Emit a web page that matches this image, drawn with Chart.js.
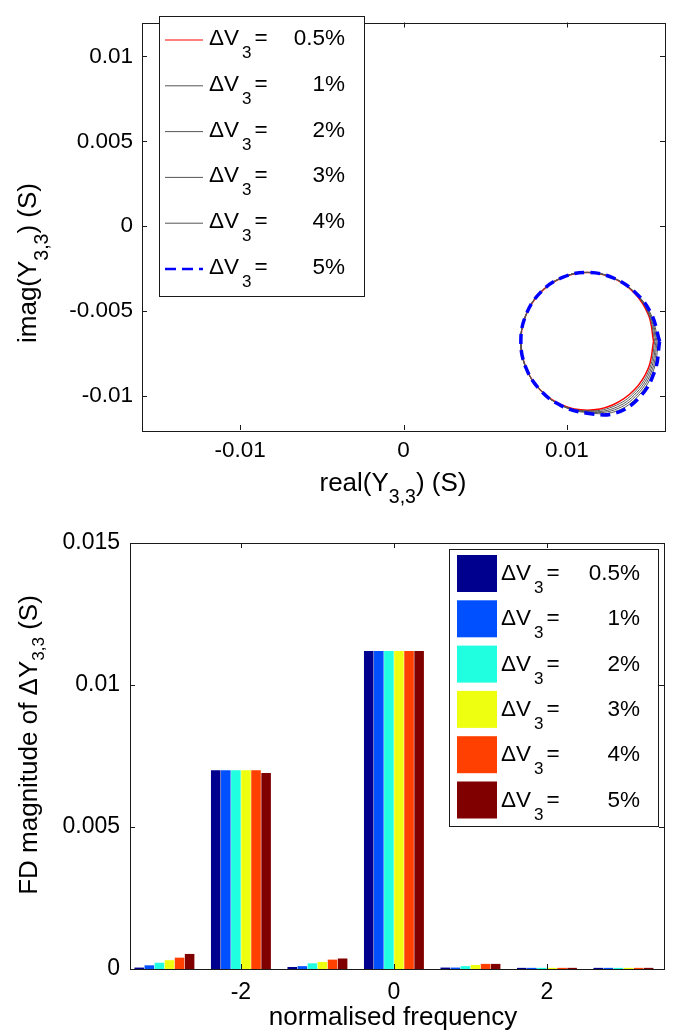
<!DOCTYPE html>
<html>
<head>
<meta charset="utf-8">
<script src="https://cdn.jsdelivr.net/npm/chart.js@4.4.0/dist/chart.umd.min.js"></script>
<style>
  html, body { margin: 0; padding: 0; background: #fff; }
  canvas { display: block; }
</style>
</head>
<body>
<canvas id="loopChart" width="674" height="510"></canvas>
<canvas id="fdChart" width="674" height="526"></canvas>
<script>
const FONT = '"Liberation Sans", Arial, Helvetica, sans-serif';
Chart.defaults.font.family = FONT;
Chart.defaults.color = '#000';

// legend levels
const levels = ['0.5%', '1%', '2%', '3%', '4%', '5%'];

// real / imag parts of Y33 traced around the loop
const re05 = [0.01530, 0.01499, 0.01411, 0.01279, 0.01124, 0.00969, 0.00837, 0.00749, 0.00718, 0.00749, 0.00837, 0.00969, 0.01124, 0.01279, 0.01411, 0.01499, 0.01530];
const im05 = [-0.00678, -0.00523, -0.00391, -0.00303, -0.00272, -0.00303, -0.00391, -0.00523, -0.00678, -0.00833, -0.00965, -0.01053, -0.01084, -0.01053, -0.00965, -0.00833, -0.00678];
const re1 = [0.01537, 0.01502, 0.01412, 0.01279, 0.01124, 0.00969, 0.00837, 0.00749, 0.00718, 0.00749, 0.00837, 0.00969, 0.01124, 0.01283, 0.01419, 0.01507, 0.01537];
const im1 = [-0.00678, -0.00522, -0.00390, -0.00303, -0.00272, -0.00303, -0.00391, -0.00523, -0.00678, -0.00833, -0.00965, -0.01054, -0.01087, -0.01062, -0.00972, -0.00836, -0.00678];
const re2 = [0.01545, 0.01506, 0.01413, 0.01279, 0.01124, 0.00969, 0.00837, 0.00749, 0.00718, 0.00749, 0.00837, 0.00968, 0.01124, 0.01287, 0.01427, 0.01515, 0.01545];
const im2 = [-0.00678, -0.00520, -0.00389, -0.00303, -0.00272, -0.00303, -0.00391, -0.00523, -0.00678, -0.00833, -0.00965, -0.01055, -0.01091, -0.01072, -0.00979, -0.00839, -0.00678];
const re3 = [0.01552, 0.01509, 0.01413, 0.01279, 0.01124, 0.00969, 0.00837, 0.00749, 0.00718, 0.00749, 0.00837, 0.00968, 0.01124, 0.01292, 0.01434, 0.01523, 0.01552];
const im3 = [-0.00678, -0.00519, -0.00389, -0.00303, -0.00272, -0.00303, -0.00391, -0.00523, -0.00678, -0.00833, -0.00965, -0.01056, -0.01094, -0.01081, -0.00987, -0.00842, -0.00678];
const re4 = [0.01560, 0.01513, 0.01414, 0.01279, 0.01124, 0.00969, 0.00837, 0.00749, 0.00718, 0.00749, 0.00837, 0.00967, 0.01124, 0.01296, 0.01442, 0.01531, 0.01560];
const im4 = [-0.00678, -0.00517, -0.00388, -0.00303, -0.00272, -0.00303, -0.00391, -0.00523, -0.00678, -0.00833, -0.00965, -0.01057, -0.01098, -0.01091, -0.00994, -0.00845, -0.00678];
const re5 = [0.01567, 0.01516, 0.01415, 0.01279, 0.01124, 0.00969, 0.00837, 0.00749, 0.00718, 0.00749, 0.00837, 0.00967, 0.01124, 0.01300, 0.01450, 0.01539, 0.01567];
const im5 = [-0.00678, -0.00516, -0.00387, -0.00303, -0.00272, -0.00303, -0.00391, -0.00523, -0.00678, -0.00833, -0.00965, -0.01058, -0.01101, -0.01100, -0.01001, -0.00848, -0.00678];

const loopTicksX = [-0.01, 0, 0.01];
const loopTicksY = [-0.01, -0.005, 0, 0.005, 0.01];

// FD magnitude of dY33 per normalised frequency
const freqs = [-3, -2, -1, 0, 1, 2, 3];
const fd05 = [0.00005, 0.0070, 0.00007, 0.0112, 0.00005, 0.00004, 0.00004];
const fd1 = [0.00013, 0.0070, 0.00010, 0.0112, 0.00005, 0.00004, 0.00004];
const fd2 = [0.00022, 0.0070, 0.00020, 0.0112, 0.00010, 0.00004, 0.00004];
const fd3 = [0.00031, 0.0070, 0.00025, 0.0112, 0.00014, 0.00004, 0.00004];
const fd4 = [0.00040, 0.0070, 0.00033, 0.0112, 0.00018, 0.00004, 0.00004];
const fd5 = [0.00053, 0.0069, 0.00037, 0.0112, 0.00018, 0.00004, 0.00004];

const fdTicksX = [-2, 0, 2];
const fdTicksY = [0, 0.005, 0.01, 0.015];

const loopColors = ['#ff0000', '#555555', '#555555', '#555555', '#555555', '#0000ff'];
const barColors = ['#00008f', '#0050ff', '#20ffdf', '#efff10', '#ff4000', '#800000'];

function fmt(v) {
    return String(Number(v.toFixed(4)));
}

function setTicks(list) {
    return function(scale) {
        scale.ticks = list.map(v => ({ value: v }));
    };
}

// text with a lowered subscript part, centred on (cx, base)
function drawRich(ctx, parts, cx, base, rotate, size, subSize, drop) {
    ctx.save();
    ctx.translate(cx, base);
    if (rotate) ctx.rotate(-Math.PI / 2);
    ctx.textAlign = 'left';
    ctx.textBaseline = 'alphabetic';
    ctx.fillStyle = '#000';
    let total = 0;
    const widths = parts.map(p => {
        ctx.font = (p.sub ? subSize : size) + 'px ' + FONT;
        const w = ctx.measureText(p.text).width;
        total += w;
        return w;
    });
    let x = -total / 2;
    parts.forEach((p, i) => {
        ctx.font = (p.sub ? subSize : size) + 'px ' + FONT;
        ctx.fillText(p.text, x, p.sub ? drop : 0);
        x += widths[i];
    });
    ctx.restore();
}

function drawLevelLabel(ctx, x, base, right, value) {
    ctx.fillStyle = '#000';
    ctx.textBaseline = 'alphabetic';
    ctx.textAlign = 'left';
    ctx.font = '22.5px ' + FONT;
    ctx.fillText('\u0394V', x, base);
    let w = ctx.measureText('\u0394V').width + 3;
    ctx.font = '17px ' + FONT;
    ctx.fillText('3', x + w, base + 13);
    w += ctx.measureText('3').width + 3;
    ctx.font = '22.5px ' + FONT;
    ctx.fillText('=', x + w, base);
    ctx.textAlign = 'right';
    ctx.fillText(value, right, base);
}

// box round the axes with inward ticks on all four sides
const framePlugin = {
    id: 'frame',
    afterDatasetsDraw(chart) {
        const { ctx, chartArea: a, scales: { x, y } } = chart;
        ctx.save();
        ctx.strokeStyle = '#1a1a1a';
        ctx.lineWidth = 1;
        ctx.beginPath();
        x.ticks.forEach(t => {
            const px = Math.round(x.getPixelForValue(t.value)) + 0.5;
            ctx.moveTo(px, a.bottom); ctx.lineTo(px, a.bottom - 5);
            ctx.moveTo(px, a.top); ctx.lineTo(px, a.top + 5);
        });
        y.ticks.forEach(t => {
            const py = Math.round(y.getPixelForValue(t.value)) + 0.5;
            ctx.moveTo(a.left, py); ctx.lineTo(a.left + 5, py);
            ctx.moveTo(a.right, py); ctx.lineTo(a.right - 5, py);
        });
        ctx.stroke();
        ctx.strokeRect(Math.round(a.left) + 0.5, Math.round(a.top) + 0.5,
            Math.round(a.right - a.left), Math.round(a.bottom - a.top));
        ctx.restore();
    }
};

const loopText = {
    id: 'loopText',
    afterDraw(chart) {
        const ctx = chart.ctx;
        ctx.save();
        drawRich(ctx, [{ text: 'real(Y' }, { text: '3,3', sub: true }, { text: ') (S)' }], 393, 491, false, 26, 19.5, 12);
        drawRich(ctx, [{ text: 'imag(Y' }, { text: '3,3', sub: true }, { text: ') (S)' }], 36, 263, true, 26, 19.5, 12);

        // legend
        ctx.fillStyle = '#fff';
        ctx.fillRect(159.5, 16.5, 205, 280);
        ctx.strokeStyle = '#1a1a1a';
        ctx.lineWidth = 1;
        ctx.strokeRect(159.5, 16.5, 205, 280);
        chart.data.datasets.forEach((ds, i) => {
            const ly = 40 + i * 45.8;
            ctx.save();
            ctx.strokeStyle = ds.borderColor;
            ctx.lineWidth = i === 5 ? 2.5 : 1;
            ctx.setLineDash(i === 5 ? [11, 6] : []);
            ctx.beginPath();
            ctx.moveTo(165, ly);
            ctx.lineTo(203, ly);
            ctx.stroke();
            ctx.restore();
            drawLevelLabel(ctx, 209, ly + 5, 345, levels[i]);
        });
        ctx.restore();
    }
};

const fdText = {
    id: 'fdText',
    afterDraw(chart) {
        const ctx = chart.ctx;
        ctx.save();
        drawRich(ctx, [{ text: 'normalised frequency' }], 393, 515, false, 26, 19.5, 12);
        drawRich(ctx, [{ text: 'FD magnitude of \u0394Y' }, { text: '3,3', sub: true }, { text: ' (S)' }], 37, 235, true, 26, 17, 7);

        // legend
        ctx.fillStyle = '#fff';
        ctx.fillRect(449.5, 39.5, 209, 277);
        ctx.strokeStyle = '#1a1a1a';
        ctx.lineWidth = 1;
        ctx.strokeRect(449.5, 39.5, 209, 277);
        chart.data.datasets.forEach((ds, i) => {
            const cy = 63.5 + i * 45.3;
            ctx.fillStyle = ds.backgroundColor;
            ctx.fillRect(457, cy - 18.5, 40, 37);
            drawLevelLabel(ctx, 501, cy + 6.5, 640, levels[i]);
        });
        ctx.restore();
    }
};

const loopSeries = [[re05, im05], [re1, im1], [re2, im2], [re3, im3], [re4, im4], [re5, im5]];

new Chart(document.getElementById('loopChart'), {
    type: 'scatter',
    data: {
        datasets: loopSeries.map((s, i) => ({
            label: '\u0394V3 = ' + levels[i],
            data: s[0].map((x, k) => ({ x: x, y: s[1][k] })),
            showLine: true,
            borderColor: loopColors[i],
            borderWidth: i === 5 ? 3.5 : (i === 0 ? 1.5 : 1),
            borderDash: i === 5 ? [10, 6] : [],
            pointRadius: 0,
            tension: 0.4,
            fill: false,
            order: 5 - i
        }))
    },
    options: {
        responsive: false,
        animation: false,
        devicePixelRatio: 1,
        layout: { padding: { top: 6, right: 9, left: 0, bottom: 0 } },
        plugins: { legend: { display: false }, tooltip: { enabled: false } },
        scales: {
            x: {
                type: 'linear',
                min: -0.016,
                max: 0.016,
                grid: { display: false, drawTicks: false },
                border: { display: false },
                afterBuildTicks: setTicks(loopTicksX),
                afterFit: s => { s.height = 80; },
                ticks: { font: { size: 22.5 }, color: '#000', padding: 7, maxRotation: 0, callback: fmt }
            },
            y: {
                type: 'linear',
                min: -0.012,
                max: 0.012,
                grid: { display: false, drawTicks: false },
                border: { display: false },
                afterBuildTicks: setTicks(loopTicksY),
                afterFit: s => { s.width = 142; },
                ticks: { font: { size: 22.5 }, color: '#000', padding: 9, callback: fmt }
            }
        }
    },
    plugins: [framePlugin, loopText]
});

const fdSeries = [fd05, fd1, fd2, fd3, fd4, fd5];

new Chart(document.getElementById('fdChart'), {
    type: 'bar',
    data: {
        datasets: fdSeries.map((vals, i) => ({
            label: '\u0394V3 = ' + levels[i],
            data: freqs.map((f, k) => ({ x: f, y: vals[k] })),
            backgroundColor: barColors[i],
            borderWidth: 0,
            categoryPercentage: 0.79,
            barPercentage: 0.95
        }))
    },
    options: {
        responsive: false,
        animation: false,
        devicePixelRatio: 1,
        layout: { padding: { top: 33, right: 10, left: 0, bottom: 0 } },
        plugins: { legend: { display: false }, tooltip: { enabled: false } },
        scales: {
            x: {
                type: 'linear',
                offset: false,
                min: -3.45,
                max: 3.53,
                grid: { display: false, drawTicks: false, offset: false },
                border: { display: false },
                afterBuildTicks: setTicks(fdTicksX),
                afterFit: s => { s.height = 67; },
                ticks: { font: { size: 23 }, color: '#000', padding: 10, maxRotation: 0, callback: fmt }
            },
            y: {
                type: 'linear',
                min: 0,
                max: 0.015,
                grid: { display: false, drawTicks: false },
                border: { display: false },
                afterBuildTicks: setTicks(fdTicksY),
                afterFit: s => { s.width = 130; },
                ticks: { font: { size: 23 }, color: '#000', padding: 10, callback: fmt }
            }
        }
    },
    plugins: [framePlugin, fdText]
});
</script>
</body>
</html>
